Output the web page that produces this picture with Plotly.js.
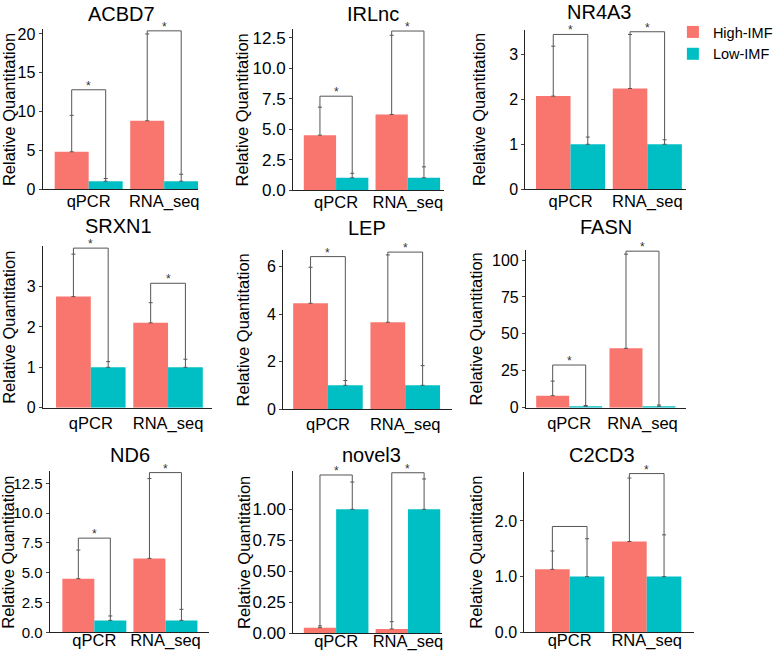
<!DOCTYPE html>
<html>
<head>
<meta charset="utf-8">
<script src="https://cdn.plot.ly/plotly-3.0.1.min.js"></script>
<style>html,body{margin:0;padding:0;background:#fff;}#chart{width:778px;height:656px;}</style>
</head>
<body>
<div id="chart"></div>
<script>
// ---- data ----
const genes = ['ACBD7','IRLnc','NR4A3','SRXN1','LEP','FASN','ND6','novel3','C2CD3'];
const methods = ['qPCR','RNA_seq'];
const groups = ['High-IMF','Low-IMF'];
const highMean = [[4.8,8.8],[4.5,6.2],[2.07,2.24],[2.75,2.1],[4.46,3.66],[8.1,40.2],[4.5,6.2],[0.045,0.035],[1.13,1.63]];
const highSd   = [[4.7,11.2],[2.3,6.5],[1.11,1.2],[1.05,0.5],[1.52,2.84],[9.9,63.8],[2.4,6.7],[0.015,0.059],[0.33,1.14]];
const lowMean  = [[1,1],[1,1],[1,1],[1,1],[1,1],[1,1],[1,1],[1,1],[1,1]];
const lowSd    = [[0.35,0.9],[0.37,0.9],[0.16,0.1],[0.14,0.2],[0.2,0.83],[0.5,0.8],[0.37,0.93],[0.22,0.245],[0.68,0.75]];
const bracketY = [[12.8,20.4],[7.7,13.05],[3.44,3.5],[3.95,3.08],[6.43,6.62],[28.9,106],[7.9,13.4],[1.277,1.295],[1.9,2.85]];
const sigLabel = [['*','*'],['*','*'],['*','*'],['*','*'],['*','*'],['*','*'],['*','*'],['*','*'],['','*']];
const yMax     = [20.6,13.2,3.55,4.0,6.7,107,13.5,1.31,2.88];
const yTicks   = [[0,5,10,15,20],[0,2.5,5,7.5,10,12.5],[0,1,2,3],[0,1,2,3],[0,2,4,6],[0,25,50,75,100],[0,2.5,5,7.5,10,12.5],[0,0.25,0.5,0.75,1],[0,1,2]];
const yFormat  = ['d','.1f','d','d','d','d','.1f','.2f','.1f'];

// ---- layout geometry (pixels) and text sizes ----
const W = 778, H = 656;
const xPx = [[43,200],[295.7,447.7],[530,692.7],[43.3,214],[285.7,455.7],[530.7,692.7],[50,210.7],[295.7,445.7],[529,700]];
const xRng = [[-0.61,1.45],[-0.6,1.5],[-0.59,1.51],[-0.62,1.57],[-0.58,1.6],[-0.59,1.6],[-0.63,1.61],[-0.6,1.47],[-0.59,1.61]];
const yPx = [[29.3,189],[29.2,190],[29.5,189.3],[246.1,407.7],[250.2,409],[249.7,407.7],[471.4,632.3],[470.9,633.3],[471.9,632.3]];
const titlePos = [[123,14],[376.7,14],[604.7,11.7],[120,226],[370,228],[611.8,227],[131.3,454.5],[375,454.5],[607,454.5]];
const yTitleX = [9,244,484,9,245,480,8,246,480];
const yTickSize = [16,17,16,16,16,16,15,17,16];
const xLabelShift = [-3,-3,-3,0,0,0,-7,-7,-7];

const colHigh = '#F8766D', colLow = '#00BFC4', colErr = '#555555';
const FONT = 'Liberation Sans, Arial, Helvetica, sans-serif';
const bargap = 0.1;
const off = (1 - bargap) / 4;

const traces = [];
const annotations = [];
const layout = {
  width: W, height: H,
  margin: {l:0, r:0, t:0, b:0},
  paper_bgcolor: '#fff', plot_bgcolor: '#fff',
  barmode: 'group', bargap: bargap, bargroupgap: 0,
  font: {family: FONT, color: '#000'},
  showlegend: true,
  legend: {x: 679/W, y: 1 - 16/H, xanchor: 'left', yanchor: 'top', font: {size: 14.5, family: FONT, color:'#000'}, tracegroupgap: 0, bgcolor: 'rgba(0,0,0,0)'},
  annotations: annotations
};

genes.forEach((g, i) => {
  const s = i === 0 ? '' : String(i + 1);
  const xa = 'x' + s, ya = 'y' + s;
  traces.push({
    type: 'bar', x: [0,1], y: highMean[i], name: groups[0], legendgroup: 'h', showlegend: i === 0,
    xaxis: xa, yaxis: ya, marker: {color: colHigh, line: {width: 0}}, hoverinfo: 'skip',
    error_y: {type: 'data', symmetric: false, array: highSd[i], arrayminus: [0,0], color: colErr, thickness: 1, width: 2}
  });
  traces.push({
    type: 'bar', x: [0,1], y: lowMean[i], name: groups[1], legendgroup: 'l', showlegend: i === 0,
    xaxis: xa, yaxis: ya, marker: {color: colLow, line: {width: 0}}, hoverinfo: 'skip',
    error_y: {type: 'data', symmetric: false, array: lowSd[i], arrayminus: [0,0], color: colErr, thickness: 1, width: 2}
  });
  [0,1].forEach(j => {
    const hTop = highMean[i][j] + highSd[i][j];
    const lTop = lowMean[i][j] + lowSd[i][j];
    const b = bracketY[i][j];
    traces.push({
      type: 'scatter', mode: 'lines', x: [j - off, j - off, j + off, j + off], y: [hTop, b, b, lTop],
      xaxis: xa, yaxis: ya, line: {color: colErr, width: 1}, showlegend: false, hoverinfo: 'skip'
    });
    if (sigLabel[i][j]) {
      annotations.push({xref: xa, yref: ya, x: j, y: b, text: sigLabel[i][j], showarrow: false,
        yanchor: 'bottom', xanchor: 'center', yshift: -5, font: {size: 12, color: '#333', family: FONT}});
    }
  });
  layout['xaxis' + s] = {
    domain: [xPx[i][0]/W, xPx[i][1]/W], range: xRng[i], anchor: ya,
    tickvals: [0,1], ticktext: methods, ticks: '', showline: true, linecolor: '#222', linewidth: 1,
    ticklabelstandoff: xLabelShift[i],
    showgrid: false, zeroline: false, fixedrange: true, tickfont: {size: 16.5, family: FONT, color: '#000'}
  };
  layout['yaxis' + s] = {
    domain: [1 - yPx[i][1]/H, 1 - yPx[i][0]/H], range: [0, yMax[i]], anchor: xa,
    tickmode: 'array', tickvals: yTicks[i], tickformat: yFormat[i], ticks: 'outside', ticklen: 3, tickcolor: '#444',
    showline: true, linecolor: '#222', linewidth: 1, showgrid: false, zeroline: false, fixedrange: true,
    tickfont: {size: yTickSize[i], family: FONT, color: '#000'}
  };
  annotations.push({xref: 'paper', yref: 'paper', x: titlePos[i][0]/W, y: 1 - titlePos[i][1]/H,
    xanchor: 'center', yanchor: 'middle', text: g, showarrow: false, font: {size: 20, family: FONT, color: '#000'}});
  annotations.push({xref: 'paper', yref: 'paper', x: yTitleX[i]/W, y: 1 - (yPx[i][0] + yPx[i][1])/2/H,
    xanchor: 'center', yanchor: 'middle', textangle: -90, text: 'Relative Quantitation', showarrow: false,
    font: {size: 16.5, family: FONT, color: '#000'}});
});

Plotly.newPlot('chart', traces, layout, {staticPlot: true, displayModeBar: false});
</script>
</body>
</html>
